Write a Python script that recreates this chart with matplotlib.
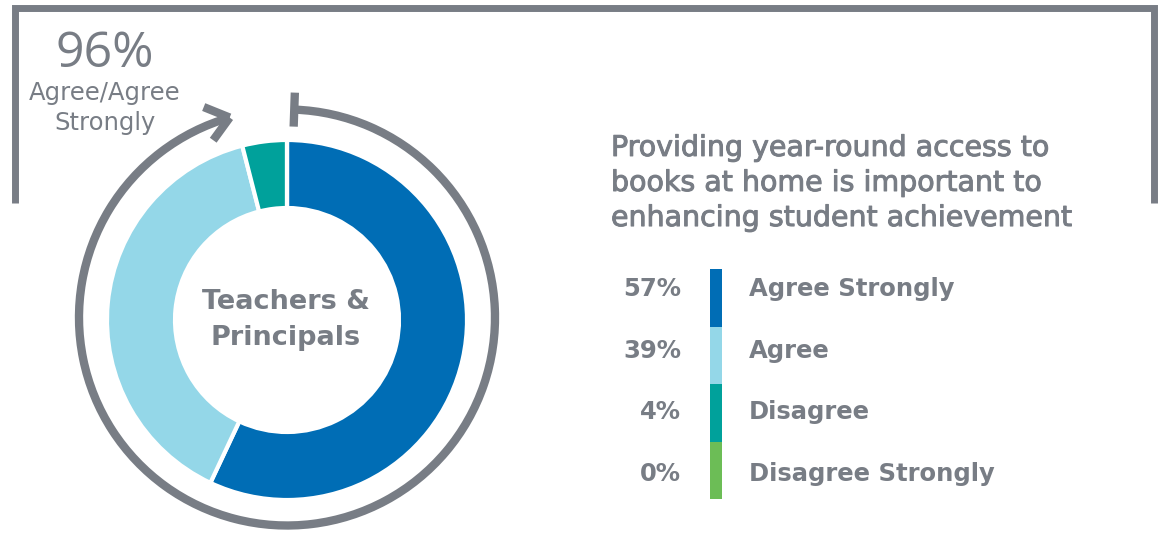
import numpy as np
import matplotlib
matplotlib.use('Agg')
import matplotlib.pyplot as plt
import matplotlib.patheffects as pe
from matplotlib.patches import Arc, Rectangle

# data
categories = ['Agree Strongly', 'Agree', 'Disagree', 'Disagree Strongly']
shares = [57, 39, 4, 0]
colors = ['#006db5', '#94d7e8', '#00a19b', '#6cbd56']
combined = 96
combined_label = 'Agree/Agree\nStrongly'
group_label = 'Teachers &\nPrincipals'
title = ('Providing year-round access to\n'
         'books at home is important to\n'
         'enhancing student achievement')

GRAY = '#787d85'
W, H = 1158, 536
plt.rcParams['font.family'] = ['DejaVu Sans']

fig = plt.figure(figsize=(W / 100, H / 100), dpi=100)
ax = fig.add_axes([0, 0, 1, 1])

def Y(p):
    return H - p

# donut
cx, cy = 287, Y(320)
ax.pie(shares, colors=colors, startangle=90, counterclock=False,
       center=(cx, cy), radius=180,
       wedgeprops=dict(width=68, edgecolor='white', linewidth=3))

# outer ring with arrow
rr = 208
rcx, rcy = 287, Y(317.5)
a_start, a_end = 88, 106
lw_ring = 6
ax.add_patch(Arc((rcx, rcy), 2 * rr, 2 * rr, theta1=a_end, theta2=360 + a_start,
                 color=GRAY, lw=lw_ring, capstyle='butt'))
# start cap
t = np.radians(a_start)
ax.plot([rcx + (rr - 17) * np.cos(t), rcx + (rr + 17) * np.cos(t)],
        [rcy + (rr - 17) * np.sin(t), rcy + (rr + 17) * np.sin(t)],
        color=GRAY, lw=lw_ring, solid_capstyle='butt')
# arrow head
t = np.radians(a_end)
tip = np.array([rcx + rr * np.cos(t), rcy + rr * np.sin(t)])
back = np.degrees(np.arctan2(np.cos(t), -np.sin(t)))
for d in (back + 38, back - 38):
    e = tip + 28 * np.array([np.cos(np.radians(d)), np.sin(np.radians(d))])
    ax.plot([e[0], tip[0]], [e[1], tip[1]], color=GRAY, lw=lw_ring,
            solid_capstyle='butt', solid_joinstyle='miter')

# frame
ax.plot([14.5, 14.5, 1154, 1154], [Y(203), Y(8), Y(8), Y(203)],
        color=GRAY, lw=5, solid_joinstyle='miter', solid_capstyle='butt')

# texts
ax.text(105, Y(54), f'{combined}%', fontsize=36, color=GRAY,
        family=['Open Sans', 'DejaVu Sans'], ha='center', va='center')
ax.text(105, Y(108), combined_label, fontsize=17.5, color=GRAY,
        ha='center', va='center', linespacing=1.3)
ax.text(cx - 1, cy, group_label, fontsize=19.5, color=GRAY, fontweight='bold',
        ha='center', va='center', linespacing=1.5)
ax.text(611, Y(183), title, fontsize=20.5, color=GRAY,
        ha='left', va='center', linespacing=1.32,
        path_effects=[pe.withStroke(linewidth=0.7, foreground=GRAY)])

# legend
seg = 57.5
top = 269
row0, row_step = 289, 61.7
for i, (c, s, col) in enumerate(zip(categories, shares, colors)):
    y0 = top + i * seg
    ax.add_patch(Rectangle((710, Y(y0 + seg)), 12, seg, color=col, lw=0))
    ym = Y(row0 + i * row_step)
    ax.text(681, ym, f'{s}%', fontsize=17.5, color=GRAY, fontweight='bold',
            ha='right', va='center')
    ax.text(749, ym, c, fontsize=17.5, color=GRAY, fontweight='bold',
            ha='left', va='center')

ax.set_xlim(0, W)
ax.set_ylim(0, H)
ax.set_aspect('equal')
ax.axis('off')
fig.savefig('out.png', dpi=100)
